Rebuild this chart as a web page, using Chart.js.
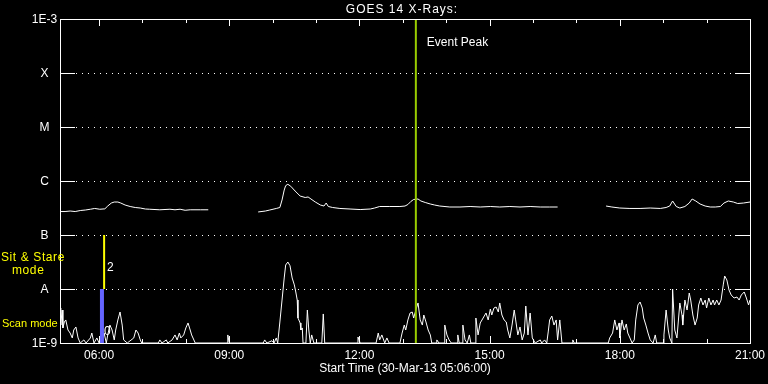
<!DOCTYPE html>
<html>
<head>
<meta charset="utf-8">
<title>GOES 14 X-Rays</title>
<script src="https://cdn.jsdelivr.net/npm/chart.js@4/dist/chart.umd.min.js"></script>
<style>
  html, body { margin: 0; padding: 0; background: #000; }
  #chart { display: block; }
</style>
</head>
<body>
<canvas id="chart" width="768" height="384"></canvas>
<script>
// Times are minutes after midnight on 30-Mar-13, flux in W/m^2
const startMinute = 306;   // 05:06
const endMinute = 1260;    // 21:00

const yTickValues = [1e-9, 1e-8, 1e-7, 1e-6, 1e-5, 1e-4, 1e-3];
const yTickLabels = ['1E-9', 'A', 'B', 'C', 'M', 'X', '1E-3'];
const xTickHours = [6, 9, 12, 15, 18, 21];

const eventPeakTime = 798;   // ~13:18
const scanModeTime = 364;
const stareModeTime = 367;

// long channel (1-8 A), null marks data gaps
const longTimes = [
  306, 313, 320, 327, 334, 341, 348, 354, 361, 368, 372, 377, 381, 386, 390, 396,
  403, 410, 417, 424, 430, 444, 458, 465, 472, 479, 486, 500, 511, 545,
  580, 590, 596, 605, 610, 613, 616, 618, 621, 625, 631, 638, 645, 649, 653, 659,
  666, 671, 674, 677, 683, 693, 707, 721, 735, 741, 748, 762, 776, 783, 787, 791,
  795, 801, 805, 811, 818, 824, 831, 845, 859, 873, 887, 901, 914, 928, 942, 956,
  970, 983, 994, 1030,
  1061, 1069, 1080, 1094, 1108, 1122, 1136, 1144, 1149, 1153, 1158, 1163, 1170, 1176,
  1180, 1185, 1191, 1198, 1205, 1212, 1219, 1224, 1230, 1237, 1243, 1251, 1260
];
const longFlux = [
  2.72e-7, 2.72e-7, 2.78e-7, 2.72e-7, 2.84e-7, 2.90e-7, 3.0e-7, 3.10e-7, 3.0e-7, 3.05e-7, 3.44e-7, 3.91e-7, 4.08e-7, 4.08e-7, 3.91e-7, 3.59e-7,
  3.37e-7, 3.23e-7, 3.16e-7, 3.03e-7, 3.0e-7, 2.93e-7, 3.0e-7, 2.93e-7, 3.0e-7, 2.87e-7, 2.93e-7, 2.93e-7, 2.93e-7, null,
  2.67e-7, 2.78e-7, 2.90e-7, 3.10e-7, 3.23e-7, 4.45e-7, 6.80e-7, 8.20e-7, 8.69e-7, 8.00e-7, 6.53e-7, 5.27e-7, 4.95e-7, 5.06e-7, 4.64e-7, 4.08e-7,
  3.59e-7, 3.44e-7, 3.91e-7, 3.37e-7, 3.23e-7, 3.10e-7, 3.03e-7, 2.96e-7, 3.03e-7, 3.16e-7, 3.37e-7, 3.37e-7, 3.37e-7, 3.44e-7, 3.67e-7, 4.17e-7,
  4.55e-7, 4.64e-7, 4.26e-7, 4.00e-7, 3.75e-7, 3.59e-7, 3.44e-7, 3.30e-7, 3.30e-7, 3.37e-7, 3.30e-7, 3.37e-7, 3.30e-7, 3.37e-7, 3.30e-7, 3.37e-7,
  3.30e-7, 3.30e-7, 3.30e-7, null,
  3.44e-7, 3.30e-7, 3.16e-7, 3.10e-7, 3.10e-7, 3.16e-7, 3.10e-7, 3.23e-7, 3.44e-7, 4.26e-7, 3.37e-7, 3.16e-7, 3.37e-7, 3.91e-7,
  4.64e-7, 4.26e-7, 3.75e-7, 3.44e-7, 3.30e-7, 3.30e-7, 3.37e-7, 3.91e-7, 4.26e-7, 4.08e-7, 3.83e-7, 3.91e-7, 4.08e-7
];

// short channel (0.5-4 A)
const shortTimes = [
  306, 307, 309, 310, 312, 314, 317, 320, 323, 325, 328, 331, 334, 339, 342, 348,
  350, 353, 357, 360, 364, 367, 370, 372, 375, 378, 381, 383, 386, 389, 392, 394,
  399, 408, 411, 414, 417, 419, 442, 444, 447, 453, 455, 461, 465, 468, 471, 473,
  477, 480, 483, 486, 488, 493, 537, 538, 540, 587, 589, 592, 599, 602, 605, 607,
  610, 613, 616, 618, 621, 624, 627, 630, 632, 634, 635, 638, 639, 641, 642, 646,
  648, 650, 652, 654, 657, 668, 670, 672, 717, 718, 721, 743, 746, 748, 751, 755,
  758, 761, 776, 779, 782, 784, 787, 790, 793, 795, 798, 801, 804, 807, 809, 812,
  815, 818, 820, 826, 827, 830, 837, 838, 841, 844, 847, 855, 856, 858, 862, 863,
  866, 869, 872, 874, 880, 881, 884, 887, 891, 895, 898, 901, 903, 906, 909, 912,
  914, 917, 920, 923, 925, 928, 931, 934, 936, 939, 942, 945, 948, 950, 953, 956,
  959, 963, 970, 972, 976, 979, 981, 983, 986, 989, 992, 994, 997, 1000, 1014, 1015,
  1017, 1064, 1066, 1070, 1073, 1076, 1079, 1080, 1083, 1086, 1089, 1091, 1094, 1097, 1100, 1102,
  1105, 1108, 1111, 1113, 1116, 1119, 1122, 1126, 1129, 1131, 1140, 1141, 1144, 1147, 1149, 1152,
  1153, 1156, 1159, 1163, 1166, 1167, 1170, 1173, 1176, 1178, 1181, 1184, 1187, 1189, 1192, 1195,
  1198, 1200, 1203, 1206, 1209, 1211, 1214, 1217, 1220, 1223, 1225, 1228, 1231, 1234, 1238, 1242,
  1245, 1248, 1252, 1255, 1258, 1260
];
const shortFlux = [
  4.45e-9, 2.15e-9, 4.08e-9, 1.90e-9, 2.45e-9, 2.67e-9, 1.74e-9, 1.53e-9, 1.24e-9, 1.74e-9, 1.98e-9, 1.24e-9, 1.00e-9, 1.14e-9, 1.00e-9, 1.24e-9,
  1.53e-9, 1.00e-9, 1.24e-9, 1.00e-9, 1.14e-9, 1.53e-9, 1.00e-9, 1.41e-9, 2.15e-9, 1.74e-9, 1.14e-9, 1.74e-9, 2.67e-9, 3.75e-9, 2.15e-9, 1.14e-9,
  1.00e-9, 1.24e-9, 1.74e-9, 1.53e-9, 1.14e-9, 1.00e-9, 1.00e-9, 1.14e-9, 1.00e-9, 1.14e-9, 1.00e-9, 1.14e-9, 1.41e-9, 1.14e-9, 1.53e-9, 1.24e-9,
  1.41e-9, 1.90e-9, 2.35e-9, 1.74e-9, 1.41e-9, 1.00e-9, 1.00e-9, 1.41e-9, 1.00e-9, 1.00e-9, 1.14e-9, 1.00e-9, 1.10e-9, 1.00e-9, 1.24e-9, 1.00e-9,
  2.45e-9, 6.25e-9, 1.60e-8, 2.78e-8, 3.16e-8, 2.70e-8, 1.60e-8, 1.19e-8, 8.80e-9, 6.25e-9, 2.90e-9, 2.35e-9, 1.74e-9, 1.90e-9, 1.00e-9, 1.00e-9,
  4.08e-9, 1.74e-9, 1.00e-9, 1.41e-9, 1.00e-9, 1.00e-9, 3.45e-9, 1.00e-9, 1.00e-9, 1.29e-9, 1.00e-9, 1.00e-9, 1.53e-9, 1.14e-9, 1.41e-9, 1.00e-9,
  1.24e-9, 1.00e-9, 1.00e-9, 1.53e-9, 2.15e-9, 1.74e-9, 2.67e-9, 3.59e-9, 3.75e-9, 2.90e-9, 4.08e-9, 5.51e-9, 2.67e-9, 2.15e-9, 3.30e-9, 2.45e-9,
  1.74e-9, 1.41e-9, 1.00e-9, 1.00e-9, 1.14e-9, 1.00e-9, 1.00e-9, 2.15e-9, 1.41e-9, 1.14e-9, 1.00e-9, 1.00e-9, 1.41e-9, 1.00e-9, 1.00e-9, 2.15e-9,
  1.14e-9, 1.00e-9, 1.41e-9, 1.00e-9, 1.00e-9, 2.90e-9, 1.41e-9, 2.35e-9, 2.90e-9, 3.59e-9, 2.67e-9, 4.26e-9, 3.30e-9, 4.45e-9, 4.64e-9, 3.75e-9,
  5.51e-9, 3.30e-9, 2.67e-9, 2.45e-9, 1.74e-9, 1.24e-9, 2.15e-9, 4.08e-9, 2.67e-9, 1.41e-9, 1.98e-9, 1.14e-9, 1.53e-9, 4.84e-9, 1.41e-9, 3.59e-9,
  1.24e-9, 1.00e-9, 1.14e-9, 1.00e-9, 1.14e-9, 1.00e-9, 1.60e-9, 2.67e-9, 3.16e-9, 2.15e-9, 2.67e-9, 1.14e-9, 2.67e-9, 1.00e-9, 1.00e-9, 1.14e-9,
  1.00e-9, 1.00e-9, 1.24e-9, 1.53e-9, 2.67e-9, 1.74e-9, 2.35e-9, 1.24e-9, 2.67e-9, 1.74e-9, 2.25e-9, 1.53e-9, 1.24e-9, 1.00e-9, 1.14e-9, 2.67e-9,
  5.06e-9, 5.74e-9, 4.45e-9, 2.90e-9, 2.15e-9, 1.53e-9, 1.14e-9, 1.00e-9, 1.41e-9, 1.00e-9, 1.00e-9, 1.41e-9, 4.08e-9, 1.74e-9, 1.24e-9, 1.00e-9,
  1.00e-8, 1.74e-9, 1.24e-9, 5.51e-9, 3.30e-9, 2.15e-9, 6.25e-9, 4.08e-9, 8.43e-9, 6.25e-9, 3.30e-9, 2.15e-9, 2.90e-9, 5.06e-9, 6.81e-9, 5.06e-9,
  6.25e-9, 4.45e-9, 6.81e-9, 5.06e-9, 6.25e-9, 5.06e-9, 6.25e-9, 5.06e-9, 6.25e-9, 1.19e-8, 1.74e-8, 1.47e-8, 9.58e-9, 7.74e-9, 6.81e-9, 7.10e-9,
  6.25e-9, 7.74e-9, 8.80e-9, 6.81e-9, 5.06e-9, 6.25e-9
];

const FONT = '12px "Liberation Sans", Arial, sans-serif';
const SMALL_FONT = '11px "Liberation Sans", Arial, sans-serif';

function toPoints(times, values) {
  return times.map((t, i) => ({ x: t, y: values[i] }));
}

function hhmm(minutes) {
  const h = Math.floor(minutes / 60);
  const m = minutes % 60;
  return String(h).padStart(2, '0') + ':' + String(m).padStart(2, '0');
}

// Frame, ticks, dotted levels and all the text, placed through the chart scales
const goesFrame = {
  id: 'goesFrame',
  beforeDraw(chart) {
    const ctx = chart.ctx;
    ctx.save();
    ctx.fillStyle = '#000';
    ctx.fillRect(0, 0, chart.width, chart.height);
    ctx.restore();
  },
  beforeDatasetsDraw(chart) {
    const { ctx, chartArea: a, scales: { y } } = chart;
    ctx.save();
    ctx.strokeStyle = '#fff';
    ctx.lineWidth = 1;
    ctx.setLineDash([1, 5]);
    yTickValues.slice(1, -1).forEach(v => {
      const py = Math.round(y.getPixelForValue(v)) + 0.5;
      ctx.beginPath();
      ctx.moveTo(a.left + 16, py);
      ctx.lineTo(a.right - 15, py);
      ctx.stroke();
    });
    ctx.restore();
  },
  afterDatasetsDraw(chart) {
    const { ctx, chartArea: a, scales: { x, y } } = chart;
    ctx.save();
    ctx.strokeStyle = '#fff';
    ctx.lineWidth = 1;

    // box
    ctx.strokeRect(a.left + 0.5, a.top + 0.5, a.right - a.left, a.bottom - a.top);

    // level ticks on both sides
    ctx.beginPath();
    yTickValues.forEach(v => {
      const py = Math.round(y.getPixelForValue(v)) + 0.5;
      ctx.moveTo(a.left, py); ctx.lineTo(a.left + 15, py);
      ctx.moveTo(a.right - 15, py); ctx.lineTo(a.right, py);
    });
    // hourly ticks top and bottom, longer every 3 hours
    for (let h = 6; h <= 21; h++) {
      const px = Math.round(x.getPixelForValue(h * 60)) + 0.5;
      const len = (h % 3 === 0) ? 7 : 4;
      ctx.moveTo(px, a.top); ctx.lineTo(px, a.top + len);
      ctx.moveTo(px, a.bottom); ctx.lineTo(px, a.bottom - len);
    }
    ctx.stroke();

    ctx.font = FONT;
    ctx.fillStyle = '#fff';
    ctx.textBaseline = 'middle';

    // y labels
    ctx.textAlign = 'center';
    yTickValues.forEach((v, i) => {
      ctx.fillText(yTickLabels[i], 44.5, y.getPixelForValue(v) + 1);
    });

    // x labels
    xTickHours.forEach(h => {
      ctx.fillText(hhmm(h * 60), x.getPixelForValue(h * 60), a.bottom + 13);
    });

    // titles
    ctx.fillText('Start Time (30-Mar-13 ' + hhmm(startMinute) + ':00)', (a.left + a.right) / 2, a.bottom + 26);
    ctx.letterSpacing = '1px';
    ctx.fillText('GOES 14 X-Rays:', (a.left + a.right) / 2 - 3, 10);
    ctx.letterSpacing = '0px';

    // event marker text
    ctx.textAlign = 'left';
    ctx.fillText('Event Peak', x.getPixelForValue(eventPeakTime) + 11, 43);

    // mode labels
    ctx.fillText('2', x.getPixelForValue(stareModeTime) + 3, y.getPixelForValue(2.5e-8));
    ctx.fillText('0', x.getPixelForValue(scanModeTime) + 2, y.getPixelForValue(1.6e-9));
    ctx.fillStyle = '#ffff00';
    ctx.letterSpacing = '0.6px';
    ctx.fillText('Sit & Stare', 1, 258);
    ctx.fillText('mode', 12, 271);
    ctx.letterSpacing = '0px';
    ctx.font = SMALL_FONT;
    ctx.fillText('Scan mode', 2, 324);
    ctx.restore();
  }
};

function initializeChart() {
  if (typeof Chart === 'undefined') {
    console.error('Chart.js is not loaded');
    return;
  }
  const ctx = document.getElementById('chart').getContext('2d');
  new Chart(ctx, {
    type: 'line',
    data: {
      datasets: [
        {
          label: 'Event Peak',
          data: [{ x: eventPeakTime, y: 1e-9 }, { x: eventPeakTime, y: 1e-3 }],
          borderColor: 'rgb(153, 204, 0)',
          borderWidth: 2,
          order: 0
        },
        {
          label: 'Sit & Stare mode',
          data: [{ x: stareModeTime, y: 1e-8 }, { x: stareModeTime, y: 1e-7 }],
          borderColor: '#ffff00',
          borderWidth: 2,
          order: 1
        },
        {
          label: 'Scan mode',
          data: [{ x: scanModeTime, y: 1e-9 }, { x: scanModeTime, y: 1e-8 }],
          borderColor: '#6464ff',
          borderWidth: 4,
          order: 2
        },
        {
          label: '1.0-8.0 A',
          data: toPoints(longTimes, longFlux),
          borderColor: '#fff',
          borderWidth: 1,
          spanGaps: false,
          order: 3
        },
        {
          label: '0.5-4.0 A',
          data: toPoints(shortTimes, shortFlux),
          borderColor: '#fff',
          borderWidth: 1,
          order: 4
        }
      ]
    },
    options: {
      responsive: false,
      animation: false,
      layout: { padding: { left: 60, right: 18, top: 19, bottom: 41 } },
      elements: {
        point: { radius: 0 },
        line: { tension: 0 }
      },
      scales: {
        x: { type: 'linear', min: startMinute, max: endMinute, display: false },
        y: { type: 'logarithmic', min: 1e-9, max: 1e-3, display: false }
      },
      plugins: {
        legend: { display: false },
        tooltip: { enabled: false }
      }
    },
    plugins: [goesFrame]
  });
}

document.addEventListener('DOMContentLoaded', initializeChart);
</script>
</body>
</html>
